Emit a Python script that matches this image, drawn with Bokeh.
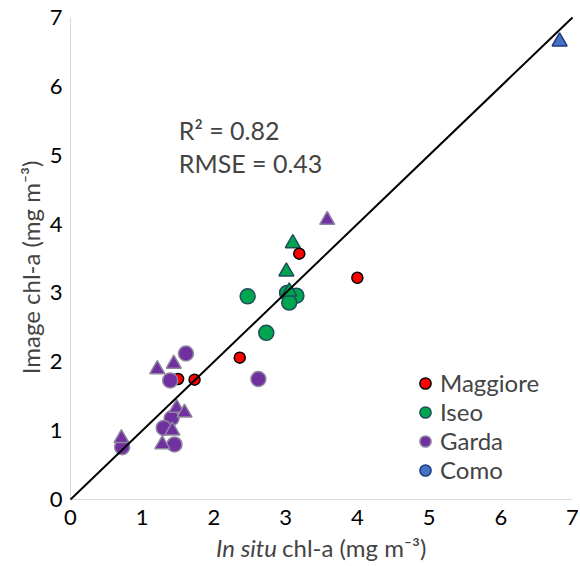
import math
from bokeh.plotting import figure
from bokeh.models import Range1d, Label, Legend, LegendItem, ColumnDataSource
from bokeh.core.properties import value
from bokeh.embed import file_html
from bokeh.resources import INLINE

# ---- data ----
maggiore_x = [1.50, 1.73, 2.36, 3.19, 4.00]
maggiore_y = [1.75, 1.74, 2.06, 3.57, 3.22]

iseo_circle_x = [2.47, 2.73, 3.02, 3.15, 3.05]
iseo_circle_y = [2.95, 2.42, 3.00, 2.96, 2.86]
iseo_tri_x = [3.10, 3.01, 3.05]
iseo_tri_y = [3.72, 3.31, 3.02]

garda_circle_x = [1.61, 1.39, 1.41, 1.30, 1.45, 0.72, 2.62]
garda_circle_y = [2.12, 1.73, 1.18, 1.04, 0.80, 0.76, 1.75]
garda_tri_x = [3.58, 1.21, 1.44, 1.48, 1.59, 1.42, 1.28, 0.71]
garda_tri_y = [4.06, 1.89, 1.97, 1.33, 1.26, 1.00, 0.80, 0.89]

como_tri_x = [6.82]
como_tri_y = [6.65]

one_to_one = [0, 7]
ticks = [0, 1, 2, 3, 4, 5, 6, 7]
tick_labels = [str(t) for t in ticks]
lakes = ["Maggiore", "Iseo", "Garda", "Como"]
stats = ["R\u00b2 = 0.82", "RMSE = 0.43"]
x_title = ["In situ", "chl-a (mg m\u207b\u00b3)"]
y_title = "Image chl-a (mg m\u207b\u00b3)"

FONT = "Lato"

# canvas; data 0..7 spans px 70..572 (x) and 499..17 (y)
W, H = 578, 562
left, right, top, bottom = 70, W - 572, 17, H - 499
sx = (W - left - right) / 7.0
sy = (H - top - bottom) / 7.0
p = figure(width=W, height=H, output_backend="svg", toolbar_location=None,
           x_range=Range1d(-left / sx, 7 + right / sx),
           y_range=Range1d(-bottom / sy, 7 + top / sy),
           x_axis_location=None, y_axis_location=None,
           min_border=0)
p.outline_line_color = None
p.grid.grid_line_color = None
p.background_fill_color = "white"

# axes lines
p.line([ticks[0], ticks[-1]], [0, 0], line_color="#d9d9d9", line_width=1)
p.line([0, 0], [ticks[0], ticks[-1]], line_color="#d9d9d9", line_width=1)

# tick labels
p.text(x=ticks, y=[0] * len(ticks), text=tick_labels, text_font=value(FONT),
       text_font_size="22px", text_align="center", text_baseline="middle",
       y_offset=18, text_color="black")
p.text(x=[0] * len(ticks), y=ticks, text=tick_labels, text_font=value(FONT),
       text_font_size="22px", text_align="right", text_baseline="middle",
       x_offset=-8, text_color="black")

# styles
mag_style = dict(fill_color="#ff0000", line_color="#000000", line_width=1.5)
iseo_style = dict(fill_color="#00a550", line_color="#1f4e5a", line_width=1.5)
garda_style = dict(fill_color="#7030a0", line_color="#8f86a0", line_width=1.5)
como_style = dict(fill_color="#4472c4", line_color="#1f3a80", line_width=1.5)

p.scatter(iseo_circle_x, iseo_circle_y, marker="circle", size=15, **iseo_style)
p.scatter(iseo_tri_x, iseo_tri_y, marker="triangle", size=15, **iseo_style)
p.scatter(maggiore_x, maggiore_y, marker="circle", size=11, **mag_style)
p.scatter(garda_circle_x, garda_circle_y, marker="circle", size=15, **garda_style)
p.scatter(garda_tri_x, garda_tri_y, marker="triangle", size=15, **garda_style)
p.scatter(como_tri_x, como_tri_y, marker="triangle", size=15, **como_style)

p.line(one_to_one, one_to_one, line_color="black", line_width=2)

# legend proxies (circles)
def proxy(style):
    src = ColumnDataSource(data=dict(x=[float("nan")], y=[float("nan")]))
    return p.scatter("x", "y", source=src, marker="circle", size=11, **style)

leg = [proxy(mag_style), proxy(iseo_style), proxy(garda_style), proxy(como_style)]
legend = Legend(items=[LegendItem(label=lab, renderers=[r]) for lab, r in zip(lakes, leg)],
                location=(411, H - 484), glyph_width=28, glyph_height=28,
                label_height=28, label_standoff=1, spacing=0, padding=0, margin=0,
                label_text_font=FONT, label_text_font_size="24px",
                label_text_baseline="middle",
                background_fill_alpha=0, border_line_color=None)
p.add_layout(legend, "center")

# stats text
p.add_layout(Label(x=1.51, y=5.36, text=stats[0], text_font=FONT, text_font_size="25px",
                   text_baseline="middle", text_align="left"))
p.add_layout(Label(x=1.51, y=4.89, text=stats[1], text_font=FONT, text_font_size="25px",
                   text_baseline="middle", text_align="left"))

# axis titles
p.add_layout(Label(x=2.88, y=-0.70, text=x_title[0], text_font=FONT, text_font_size="24px",
                   text_font_style="italic", text_align="right", text_baseline="middle"))
p.add_layout(Label(x=2.95, y=-0.70, text=x_title[1], text_font=FONT, text_font_size="24px",
                   text_align="left", text_baseline="middle"))
p.add_layout(Label(x=-0.56, y=3.37, text=y_title, text_font=FONT, text_font_size="24px",
                   angle=math.pi / 2, text_align="center", text_baseline="middle"))

open("out.html", "w").write(file_html(p, INLINE))
